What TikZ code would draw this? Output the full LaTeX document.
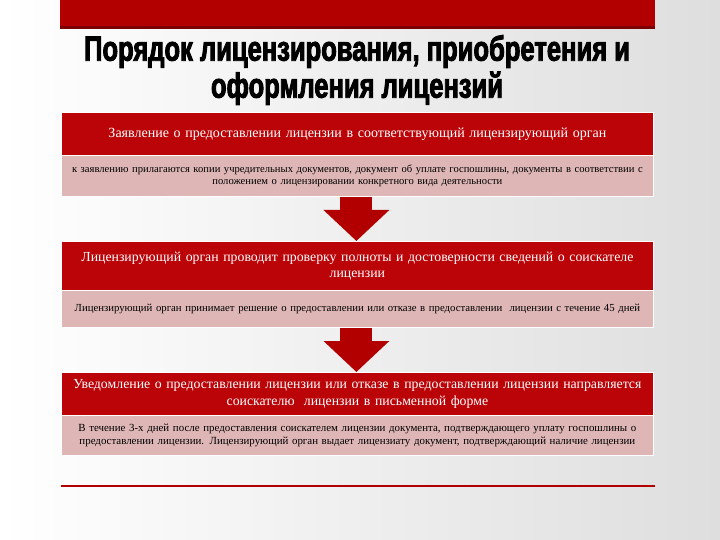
\documentclass[tikz,border=0pt]{standalone}
\usepackage{fontspec}
\setmainfont{Liberation Serif}
\newfontfamily\titlefont[FakeStretch=0.73,FakeBold=2.5]{Liberation Sans Bold}
\usetikzlibrary{arrows.meta}
\definecolor{darkred}{RGB}{178,0,0}
\definecolor{boxred}{RGB}{186,4,8}
\definecolor{pinkbox}{RGB}{222,182,182}
\definecolor{bggray}{RGB}{222,222,222}
\tikzset{
  darkbox/.style={fill=boxred, draw=white, line width=0.8pt, text=white, anchor=north west,
    minimum width=592pt, inner sep=0pt, align=center, text width=590pt},
  lightbox/.style={fill=pinkbox, draw=white, line width=0.8pt, text=black, anchor=north west,
    minimum width=592pt, inner sep=0pt, align=center, text width=590pt},
  bigarrow/.style={draw=darkred, line width=32pt, -{Triangle[width=64pt,length=31pt]}, shorten >=0pt},
  titletext/.style={font=\titlefont\fontsize{35}{37}\selectfont, text=black, align=center}
}
\begin{document}
\begin{tikzpicture}[x=1pt,y=-1pt]
\useasboundingbox (0,0) rectangle (720,540);
\shade[left color=white, right color=bggray] (0,0) rectangle (720,540);
% top bar
\fill[darkred] (60,0) rectangle (655,29);
\fill[black!30!darkred] (60,26) rectangle (655,29);
% title
\node[titletext] (title) at (357,70) {Порядок лицензирования, приобретения и\\оформления лицензий};
% box 1
\node[darkbox, minimum height=43pt, font=\fontsize{14}{16}\selectfont] (d1) at (61,112)
  {Заявление о предоставлении лицензии в соответствующий лицензирующий орган};
\node[lightbox, minimum height=41pt, font=\fontsize{10.6}{12.5}\selectfont] (l1) at (61,155)
  {к заявлению прилагаются копии учредительных документов, документ об уплате госпошлины, документы в соответствии с\\положением о лицензировании конкретного вида деятельности};
% box 2
\node[darkbox, minimum height=49pt, font=\fontsize{13.8}{16.5}\selectfont] (d2) at (61,241)
  {Лицензирующий орган проводит проверку полноты и достоверности сведений о соискателе\\лицензии};
\node[lightbox, minimum height=37pt, font=\fontsize{10.75}{12.5}\selectfont] (l2) at (61,290)
  {Лицензирующий орган принимает решение о предоставлении или отказе в предоставлении\ \ лицензии с течение 45 дней};
% box 3
\node[darkbox, minimum height=43pt, font=\fontsize{13.8}{16.5}\selectfont] (d3) at (61,372)
  {Уведомление о предоставлении лицензии или отказе в предоставлении лицензии направляется\\соискателю\ \ лицензии в письменной форме};
\node[lightbox, minimum height=40pt, font=\fontsize{10.9}{12.5}\selectfont] (l3) at (61,415)
  {В течение 3-х дней после предоставления соискателем лицензии документа, подтверждающего уплату госпошлины о\\предоставлении лицензии. Лицензирующий орган выдает лицензиату документ, подтверждающий наличие лицензии};
% arrows
\draw[bigarrow] ([xshift=-1pt]l1.south) -- ([xshift=-1pt]d2.north);
\draw[bigarrow] ([xshift=-1pt]l2.south) -- ([xshift=-1pt]d3.north);
% bottom line
\coordinate (bl) at (61,486);
\coordinate (br) at (655,486);
\draw[darkred, line width=2pt] (bl) -- (br);
\end{tikzpicture}
\end{document}
